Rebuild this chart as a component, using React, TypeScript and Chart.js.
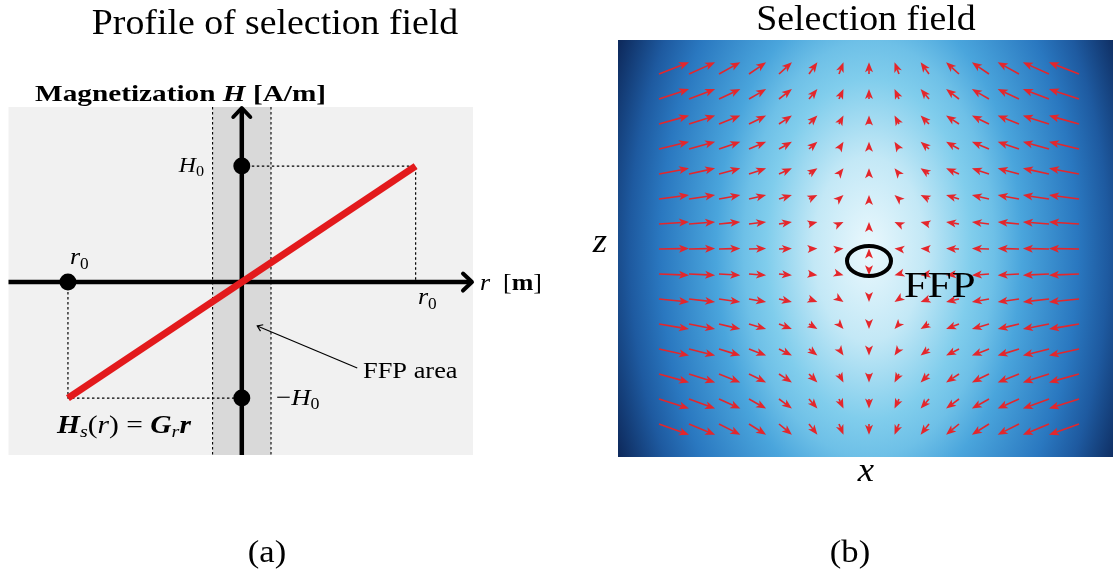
import React, { useEffect, useRef } from "react";
import { Chart, registerables } from "chart.js";

Chart.register(...registerables);

const SERIF = '"Liberation Serif", "DejaVu Serif", serif';

// ---- Panel (a): profile of the selection field ----
const profileR = [-1, 1]; // r in units of r0
const profileH = [-1, 1]; // H in units of H0
const markerR = [-1, 0, 0];
const markerH = [0, 1, -1];
const guideLowR = [-1, -1, 0];
const guideLowH = [0, -1, -1];
const guideHighR = [0, 1, 1];
const guideHighH = [1, 1, 0];
const ffpBand = [-0.168, 0.168];
const ffpPointerTail = { r: 0.664, h: -0.741 };
const ffpPointerTip = { r: 0.089, h: -0.379 };

// ---- Panel (b): quiver plot of the selection field ----
const gridX = [-7, -6, -5, -4, -3, -2, -1, 0, 1, 2, 3, 4, 5, 6, 7];
const gridZ = [7, 6, 5, 4, 3, 2, 1, 0, -1, -2, -3, -4, -5, -6, -7];
// x-component per column, z-component per row (field units, 1 = one column step)
const fieldU = [1.0, 0.87, 0.71, 0.57, 0.43, 0.28, 0.15, 0, -0.15, -0.28, -0.43, -0.57, -0.71, -0.87, -1.0];
const fieldV = [0.39, 0.33, 0.28, 0.24, 0.19, 0.13, 0.07, 0.017, -0.04, -0.1, -0.17, -0.22, -0.28, -0.32, -0.36];
const ffpCenter = { x: 0, z: -0.48 };

// Blues-like colour map for |H|
const colourStops: [number, string][] = [
  [0, "#eaf8fd"],
  [0.2, "#c3e8f6"],
  [0.37, "#80cdec"],
  [0.45, "#6ec0e7"],
  [0.55, "#4aa5dc"],
  [0.75, "#2a78c0"],
  [0.86, "#1e5aa0"],
  [0.92, "#174684"],
  [1.0, "#0e2b5e"],
];

type Run = { t: string; f: string; dy?: number };
const F = (size: number, style = "normal", weight = "normal") =>
  `${style} ${weight} ${size}px ${SERIF}`;

function drawRuns(
  ctx: CanvasRenderingContext2D,
  runs: Run[],
  x: number,
  y: number,
  align: "left" | "center" | "right",
  stretch = 1.08
) {
  ctx.save();
  ctx.textAlign = "left";
  ctx.textBaseline = "alphabetic";
  ctx.fillStyle = "#000";
  const widths = runs.map((r) => {
    ctx.font = r.f;
    return ctx.measureText(r.t).width;
  });
  const total = widths.reduce((a, b) => a + b, 0) * stretch;
  const start = align === "left" ? x : align === "center" ? x - total / 2 : x - total;
  ctx.translate(start, y);
  ctx.scale(stretch, 1);
  let cx = 0;
  runs.forEach((r, i) => {
    ctx.font = r.f;
    ctx.fillText(r.t, cx, r.dy || 0);
    cx += widths[i];
  });
  ctx.restore();
}

function openHead(ctx: CanvasRenderingContext2D, tx: number, ty: number, ux: number, uy: number, back: number, half: number) {
  const px = -uy;
  const py = ux;
  ctx.beginPath();
  ctx.moveTo(tx - ux * back + px * half, ty - uy * back + py * half);
  ctx.lineTo(tx, ty);
  ctx.lineTo(tx - ux * back - px * half, ty - uy * back - py * half);
  ctx.stroke();
}

const profilePlugin = {
  id: "profileDecor",
  beforeDatasetsDraw(chart: any) {
    const { ctx, chartArea: a, scales } = chart;
    const xs = scales.x;
    const ys = scales.y;
    ctx.save();
    ctx.fillStyle = "#f1f1f1";
    ctx.fillRect(a.left, a.top, a.right - a.left, a.bottom - a.top);
    const b0 = xs.getPixelForValue(ffpBand[0]);
    const b1 = xs.getPixelForValue(ffpBand[1]);
    ctx.fillStyle = "#d9d9d9";
    ctx.fillRect(b0, a.top, b1 - b0, a.bottom - a.top);
    ctx.strokeStyle = "#000";
    ctx.lineWidth = 1.1;
    ctx.setLineDash([2.5, 2.5]);
    [b0, b1].forEach((bx) => {
      ctx.beginPath();
      ctx.moveTo(bx, a.top);
      ctx.lineTo(bx, a.bottom);
      ctx.stroke();
    });
    ctx.setLineDash([]);
    // axes with arrow tips
    const x0 = xs.getPixelForValue(0);
    const y0 = ys.getPixelForValue(0);
    ctx.lineWidth = 4.5;
    ctx.lineCap = "butt";
    ctx.beginPath();
    ctx.moveTo(a.left, y0);
    ctx.lineTo(a.right - 2, y0);
    ctx.moveTo(x0, a.bottom);
    ctx.lineTo(x0, a.top + 2);
    ctx.stroke();
    ctx.lineCap = "round";
    ctx.lineJoin = "round";
    ctx.lineWidth = 4;
    openHead(ctx, a.right - 1, y0, 1, 0, 9, 8.5);
    openHead(ctx, x0, a.top + 1, 0, -1, 9, 8.5);
    ctx.restore();
  },
  afterDraw(chart: any) {
    const { ctx, scales } = chart;
    const xs = scales.x;
    const ys = scales.y;
    // pointer to the FFP area
    ctx.save();
    ctx.strokeStyle = "#000";
    ctx.lineWidth = 1.2;
    const tx = xs.getPixelForValue(ffpPointerTip.r);
    const ty = ys.getPixelForValue(ffpPointerTip.h);
    const sx = xs.getPixelForValue(ffpPointerTail.r);
    const sy = ys.getPixelForValue(ffpPointerTail.h);
    ctx.beginPath();
    ctx.moveTo(sx, sy);
    ctx.lineTo(tx, ty);
    ctx.stroke();
    const len = Math.hypot(tx - sx, ty - sy);
    openHead(ctx, tx, ty, (tx - sx) / len, (ty - sy) / len, 5, 3.5);
    ctx.restore();

    drawRuns(ctx, [{ t: "Profile of selection field", f: F(35) }], 275, 34, "center");
    drawRuns(
      ctx,
      [
        { t: "Magnetization ", f: F(24, "normal", "bold") },
        { t: "H", f: F(24, "italic", "bold") },
        { t: " [A/m]", f: F(24, "normal", "bold") },
      ],
      35,
      101,
      "left",
      1.22
    );
    drawRuns(ctx, [{ t: "H", f: F(22, "italic") }, { t: "0", f: F(15), dy: 4 }], 204, 172, "right");
    drawRuns(ctx, [{ t: "r", f: F(24, "italic") }, { t: "0", f: F(16), dy: 5 }], 70, 264, "left");
    drawRuns(ctx, [{ t: "r", f: F(24, "italic") }, { t: "0", f: F(16), dy: 5 }], 418, 304, "left");
    drawRuns(
      ctx,
      [{ t: "\u2212", f: F(24) }, { t: "H", f: F(24, "italic") }, { t: "0", f: F(16), dy: 4 }],
      276,
      405,
      "left",
      1.12
    );
    drawRuns(ctx, [{ t: "FFP area", f: F(24) }], 363, 378, "left", 1.1);
    drawRuns(
      ctx,
      [
        { t: "H", f: F(25, "italic", "bold") },
        { t: "s", f: F(17, "italic"), dy: 4 },
        { t: "(", f: F(25) },
        { t: "r", f: F(25, "italic") },
        { t: ") = ", f: F(25) },
        { t: "G", f: F(25, "italic", "bold") },
        { t: "r", f: F(17, "italic"), dy: 4 },
        { t: "r", f: F(25, "italic", "bold") },
      ],
      57,
      433,
      "left",
      1.18
    );
    drawRuns(
      ctx,
      [{ t: "r", f: F(24, "italic") }, { t: "  [", f: F(24) }, { t: "m", f: F(24, "normal", "bold") }, { t: "]", f: F(24) }],
      480,
      290,
      "left"
    );
    drawRuns(ctx, [{ t: "(a)", f: F(32) }], 267, 562, "center");
  },
};

function drawQuiverArrow(ctx: CanvasRenderingContext2D, x0: number, y0: number, dx: number, dy: number) {
  const len = Math.hypot(dx, dy);
  if (len < 1e-6) return;
  const ux = dx / len;
  const uy = dy / len;
  const px = -uy;
  const py = ux;
  const tipX = x0 + dx;
  const tipY = y0 + dy;
  const HL = 10;
  const HW = 4;
  const NOTCH = 7.5;
  if (len > NOTCH) {
    ctx.beginPath();
    ctx.moveTo(x0, y0);
    ctx.lineTo(tipX - ux * NOTCH, tipY - uy * NOTCH);
    ctx.stroke();
  }
  ctx.beginPath();
  ctx.moveTo(tipX, tipY);
  ctx.lineTo(tipX - ux * HL + px * HW, tipY - uy * HL + py * HW);
  ctx.lineTo(tipX - ux * NOTCH, tipY - uy * NOTCH);
  ctx.lineTo(tipX - ux * HL - px * HW, tipY - uy * HL - py * HW);
  ctx.closePath();
  ctx.fill();
}

const quiverPlugin = {
  id: "quiverDecor",
  beforeDatasetsDraw(chart: any) {
    const { ctx, chartArea: a, scales } = chart;
    const cx = scales.x.getPixelForValue(0);
    const cy = scales.y.getPixelForValue(0);
    const rx = 278;
    const ry = 462;
    ctx.save();
    ctx.beginPath();
    ctx.rect(a.left, a.top, a.right - a.left, a.bottom - a.top);
    ctx.clip();
    ctx.translate(cx, cy);
    ctx.scale(1, ry / rx);
    const g = ctx.createRadialGradient(0, 0, 0, 0, 0, rx);
    colourStops.forEach(([t, c]) => g.addColorStop(t, c));
    ctx.fillStyle = g;
    const k = rx / ry;
    ctx.fillRect(a.left - cx, (a.top - cy) * k, a.right - a.left, (a.bottom - a.top) * k);
    ctx.restore();
  },
  afterDatasetsDraw(chart: any) {
    const { ctx, scales } = chart;
    const unit = scales.x.getPixelForValue(1) - scales.x.getPixelForValue(0);
    const meta = chart.getDatasetMeta(0);
    const data = chart.data.datasets[0].data as any[];
    ctx.save();
    ctx.strokeStyle = "#e4262b";
    ctx.fillStyle = "#e4262b";
    ctx.lineWidth = 1.6;
    meta.data.forEach((el: any, i: number) => {
      const d = data[i];
      drawQuiverArrow(ctx, el.x, el.y, d.u * unit, -d.v * unit);
    });
    // field-free point marker
    const ex = scales.x.getPixelForValue(ffpCenter.x);
    const ey = scales.y.getPixelForValue(ffpCenter.z);
    ctx.strokeStyle = "#000";
    ctx.lineWidth = 4;
    ctx.beginPath();
    ctx.ellipse(ex, ey, 22, 15, 0, 0, Math.PI * 2);
    ctx.stroke();
    ctx.restore();
  },
  afterDraw(chart: any) {
    const { ctx } = chart;
    drawRuns(ctx, [{ t: "Selection field", f: F(35) }], 866, 30, "center");
    drawRuns(ctx, [{ t: "z", f: F(34, "italic") }], 600, 252, "center");
    drawRuns(ctx, [{ t: "x", f: F(34, "italic") }], 866, 481, "center");
    drawRuns(ctx, [{ t: "FFP", f: F(36) }], 904, 297, "left", 1.19);
    drawRuns(ctx, [{ t: "(b)", f: F(32) }], 850, 562, "center");
  },
};

export default function App() {
  const leftRef = useRef<HTMLCanvasElement | null>(null);
  const rightRef = useRef<HTMLCanvasElement | null>(null);

  useEffect(() => {
    const left = new Chart(leftRef.current as HTMLCanvasElement, {
      type: "scatter",
      data: {
        datasets: [
          {
            type: "scatter",
            data: markerR.map((r, i) => ({ x: r, y: markerH[i] })),
            pointRadius: 8.5,
            pointBackgroundColor: "#000",
            pointBorderWidth: 0,
            order: 0,
          },
          {
            type: "line",
            data: profileR.map((r, i) => ({ x: r, y: profileH[i] })),
            borderColor: "#e31a1c",
            borderWidth: 7,
            borderCapStyle: "butt",
            pointRadius: 0,
            order: 1,
          },
          {
            type: "line",
            data: guideLowR.map((r, i) => ({ x: r, y: guideLowH[i] })),
            borderColor: "#000",
            borderWidth: 1.2,
            borderDash: [2.5, 2.5],
            pointRadius: 0,
            order: 3,
          },
          {
            type: "line",
            data: guideHighR.map((r, i) => ({ x: r, y: guideHighH[i] })),
            borderColor: "#000",
            borderWidth: 1.2,
            borderDash: [2.5, 2.5],
            pointRadius: 0,
            order: 3,
          },
        ] as any,
      },
      options: {
        animation: false,
        responsive: false,
        events: [],
        layout: { padding: { left: 8, right: 1113 - 473, top: 107, bottom: 579 - 455 } },
        scales: {
          x: { type: "linear", min: -1.342, max: 1.33, display: false },
          y: { type: "linear", min: -1.491, max: 1.509, display: false },
        },
        plugins: { legend: { display: false }, tooltip: { enabled: false } },
      },
      plugins: [profilePlugin],
    });

    const points: any[] = [];
    gridZ.forEach((z, j) => {
      gridX.forEach((x, i) => {
        points.push({ x, y: z, u: fieldU[i], v: fieldV[j] });
      });
    });

    const right = new Chart(rightRef.current as HTMLCanvasElement, {
      type: "scatter",
      data: {
        datasets: [{ data: points, pointRadius: 0, pointHoverRadius: 0 }],
      },
      options: {
        animation: false,
        responsive: false,
        events: [],
        layout: { padding: { left: 618, right: 10, top: 40, bottom: 579 - 457 } },
        scales: {
          x: { type: "linear", min: -8.367, max: 8.367, display: false },
          y: { type: "linear", min: -8.32, max: 8.36, display: false },
        },
        plugins: { legend: { display: false }, tooltip: { enabled: false } },
      },
      plugins: [quiverPlugin],
    });

    return () => {
      left.destroy();
      right.destroy();
    };
  }, []);

  return (
    <div
      style={{
        position: "absolute",
        left: 0,
        top: 0,
        width: 1113,
        height: 579,
        overflow: "hidden",
        background: "#fff",
      }}
    >
      <canvas ref={leftRef} width={1113} height={579} style={{ position: "absolute", left: 0, top: 0 }} />
      <canvas ref={rightRef} width={1130} height={579} style={{ position: "absolute", left: 0, top: 0 }} />
    </div>
  );
}
